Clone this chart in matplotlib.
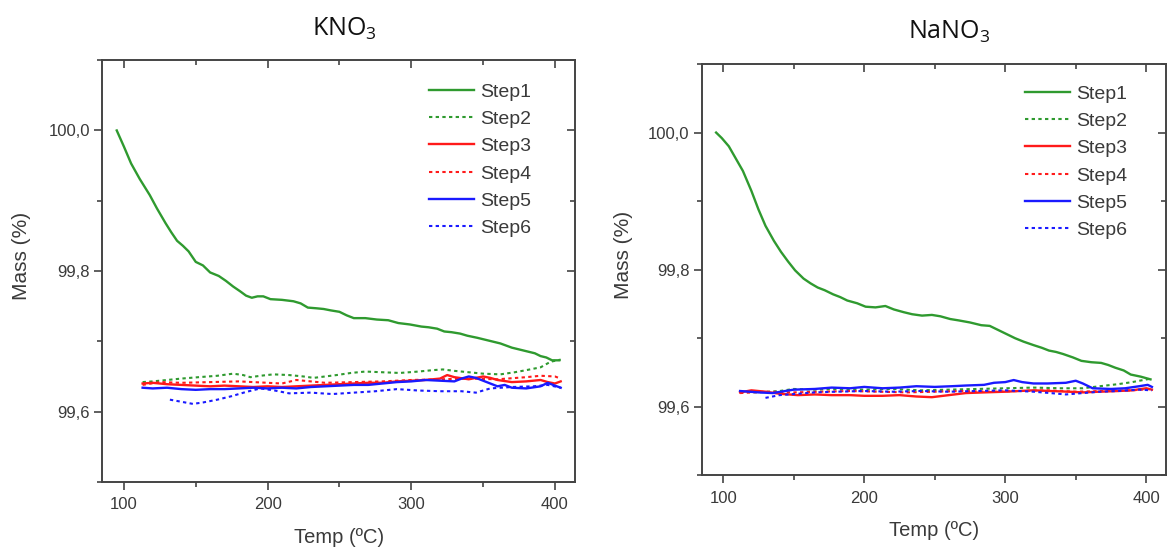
import matplotlib
matplotlib.use("Agg")
import matplotlib.pyplot as plt
from matplotlib.ticker import MultipleLocator, FuncFormatter

# ---- KNO3 ----
kno3_s1_t = [95, 100, 105, 111, 118, 123, 129, 133, 137, 141, 145, 150, 155, 160, 166, 171, 176, 181,
             185, 189, 193, 197, 202, 210, 218, 223, 228, 234, 239, 244, 250, 255, 260, 268, 276, 284,
             291, 299, 307, 312, 318, 323, 328, 334, 339, 346, 354, 362, 370, 378, 386, 390, 394, 398,
             403]
kno3_s1_m = [100.0, 99.977, 99.953, 99.931, 99.908, 99.889, 99.868, 99.855, 99.843, 99.836, 99.828,
             99.813, 99.808, 99.798, 99.793, 99.786, 99.778, 99.771, 99.765, 99.762, 99.764, 99.764,
             99.760, 99.759, 99.757, 99.754, 99.748, 99.747, 99.746, 99.744, 99.742, 99.737, 99.733,
             99.733, 99.731, 99.730, 99.726, 99.724, 99.721, 99.720, 99.718, 99.714, 99.713, 99.711,
             99.708, 99.705, 99.701, 99.697, 99.691, 99.687, 99.683, 99.679, 99.677, 99.673, 99.673]
kno3_s2_t = [113, 120, 130, 140, 152, 165, 176, 183, 188, 195, 204, 215, 225, 232, 240, 248, 258, 268,
             280, 292, 305, 315, 322, 330, 340, 350, 362, 372, 380, 390, 397, 404]
kno3_s2_m = [99.642, 99.643, 99.645, 99.647, 99.649, 99.651, 99.654, 99.652, 99.649, 99.651, 99.653,
             99.652, 99.650, 99.648, 99.650, 99.652, 99.655, 99.657, 99.656, 99.655, 99.657, 99.659,
             99.660, 99.658, 99.656, 99.654, 99.653, 99.656, 99.659, 99.663, 99.671, 99.674]
kno3_s3_t = [113, 120, 130, 140, 150, 160, 170, 180, 190, 200, 210, 220, 230, 240, 250, 260, 270, 280,
             290, 300, 310, 320, 325, 330, 340, 350, 355, 360, 370, 380, 390, 395, 400, 404]
kno3_s3_m = [99.640, 99.641, 99.639, 99.638, 99.637, 99.636, 99.637, 99.636, 99.635, 99.636, 99.635,
             99.636, 99.637, 99.638, 99.639, 99.640, 99.641, 99.641, 99.643, 99.644, 99.645, 99.647,
             99.652, 99.649, 99.646, 99.650, 99.648, 99.645, 99.642, 99.643, 99.645, 99.642, 99.640,
             99.643]
kno3_s4_t = [113, 125, 140, 160, 180, 200, 210, 220, 240, 260, 280, 300, 320, 340, 360, 380, 390, 400, 404]
kno3_s4_m = [99.638, 99.642, 99.641, 99.642, 99.643, 99.641, 99.640, 99.645, 99.641, 99.642, 99.643,
             99.645, 99.646, 99.647, 99.646, 99.649, 99.651, 99.650, 99.647]
kno3_s5_t = [113, 120, 130, 140, 150, 160, 170, 180, 190, 200, 210, 220, 230, 240, 250, 260, 270, 280,
             290, 300, 310, 320, 330, 335, 340, 345, 350, 355, 360, 365, 370, 380, 390, 395, 400, 404]
kno3_s5_m = [99.634, 99.633, 99.634, 99.632, 99.631, 99.632, 99.632, 99.633, 99.634, 99.633, 99.634,
             99.633, 99.635, 99.636, 99.637, 99.638, 99.638, 99.640, 99.642, 99.643, 99.645, 99.644,
             99.643, 99.647, 99.650, 99.648, 99.644, 99.640, 99.636, 99.638, 99.634, 99.633, 99.636,
             99.641, 99.637, 99.634]
kno3_s6_t = [132, 140, 148, 155, 165, 175, 185, 195, 205, 215, 230, 245, 260, 275, 290, 305, 320, 335,
             345, 355, 370, 385, 395, 404]
kno3_s6_m = [99.617, 99.614, 99.611, 99.613, 99.617, 99.622, 99.628, 99.633, 99.630, 99.626, 99.627,
             99.625, 99.627, 99.629, 99.632, 99.630, 99.629, 99.629, 99.627, 99.633, 99.635, 99.636,
             99.638, 99.634]

# ---- NaNO3 ----
nano3_s1_t = [95, 99, 104, 109, 114, 120, 125, 130, 136, 141, 146, 151, 157, 162, 167, 172, 178, 183,
              188, 195, 201, 208, 215, 221, 228, 234, 241, 248, 254, 261, 267, 275, 283, 289, 294, 300,
              307, 313, 320, 326, 331, 336, 341, 348, 354, 361, 368, 373, 378, 384, 389, 396, 403]
nano3_s1_m = [100.0, 99.992, 99.980, 99.962, 99.944, 99.915, 99.888, 99.864, 99.842, 99.826, 99.812,
              99.799, 99.787, 99.780, 99.774, 99.770, 99.764, 99.760, 99.755, 99.751, 99.746, 99.745,
              99.747, 99.742, 99.738, 99.735, 99.733, 99.734, 99.732, 99.728, 99.726, 99.723, 99.719,
              99.718, 99.713, 99.707, 99.700, 99.695, 99.690, 99.686, 99.682, 99.680, 99.677, 99.672,
              99.667, 99.665, 99.664, 99.661, 99.657, 99.653, 99.647, 99.644, 99.640]
nano3_s2_t = [112, 125, 140, 150, 165, 180, 200, 220, 240, 260, 280, 300, 320, 340, 355, 367, 380, 390, 403]
nano3_s2_m = [99.622, 99.621, 99.623, 99.626, 99.625, 99.626, 99.625, 99.626, 99.624, 99.625, 99.626,
              99.627, 99.628, 99.627, 99.627, 99.630, 99.633, 99.636, 99.641]
nano3_s3_t = [112, 120, 130, 140, 153, 165, 177, 190, 200, 213, 225, 237, 248, 260, 272, 285, 300, 320,
              332, 345, 355, 367, 380, 390, 400, 404]
nano3_s3_m = [99.621, 99.624, 99.622, 99.619, 99.617, 99.618, 99.617, 99.617, 99.616, 99.616, 99.617,
              99.615, 99.614, 99.617, 99.620, 99.621, 99.622, 99.624, 99.623, 99.622, 99.621, 99.622,
              99.623, 99.624, 99.627, 99.625]
nano3_s4_t = [112, 130, 150, 170, 190, 210, 230, 250, 270, 290, 310, 330, 350, 370, 390, 404]
nano3_s4_m = [99.620, 99.622, 99.621, 99.622, 99.623, 99.622, 99.621, 99.622, 99.623, 99.622, 99.623,
              99.624, 99.622, 99.623, 99.624, 99.626]
nano3_s5_t = [112, 125, 135, 150, 165, 177, 190, 200, 213, 225, 237, 250, 262, 272, 285, 292, 300, 306,
              312, 320, 330, 343, 350, 355, 362, 375, 385, 395, 401, 404]
nano3_s5_m = [99.623, 99.621, 99.620, 99.625, 99.626, 99.628, 99.627, 99.629, 99.627, 99.628, 99.630,
              99.629, 99.630, 99.631, 99.632, 99.635, 99.636, 99.639, 99.636, 99.634, 99.634, 99.635,
              99.638, 99.634, 99.627, 99.626, 99.627, 99.630, 99.632, 99.629]
nano3_s6_t = [130, 140, 153, 165, 180, 200, 220, 240, 260, 280, 300, 320, 332, 343, 355, 367, 380, 395, 404]
nano3_s6_m = [99.613, 99.617, 99.619, 99.621, 99.622, 99.623, 99.622, 99.623, 99.622, 99.623, 99.624,
              99.622, 99.620, 99.618, 99.620, 99.622, 99.623, 99.625, 99.624]

step_labels = ["Step1", "Step2", "Step3", "Step4", "Step5", "Step6"]
green = "#2f9a2f"
red = "#ff1a1a"
blue = "#1a1aff"
dots = (0, (1.6, 1.6))
styles = [(green, "-"), (green, dots), (red, "-"), (red, dots), (blue, "-"), (blue, dots)]

plt.rcParams["font.family"] = ["Liberation Sans", "DejaVu Sans"]
text_col = "#3a3a3a"
tick_col = "#444444"

fig = plt.figure(figsize=(11.7, 5.47), dpi=100)


def comma(v, pos):
    return f"{v:.1f}".replace(".", ",")


def makePanel(rect, series, title, title_xy, legend_xy, xlab_y, ylab_x):
    ax = fig.add_axes(rect)
    for (t, m), lab, (c, ls) in zip(series, step_labels, styles):
        lw = 1.7 if ls == "-" else 1.5
        ax.plot(t, m, color=c, linestyle=ls, linewidth=lw, label=lab)
    ax.set_xlim(85, 414)
    ax.set_ylim(99.5, 100.1)
    ax.xaxis.set_major_locator(MultipleLocator(100))
    ax.xaxis.set_minor_locator(MultipleLocator(50))
    ax.yaxis.set_major_locator(MultipleLocator(0.2))
    ax.yaxis.set_minor_locator(MultipleLocator(0.1))
    ax.yaxis.set_major_formatter(FuncFormatter(comma))
    ax.tick_params(which="major", length=6, width=1.2, direction="out", colors=tick_col,
                   labelsize=12, labelcolor=text_col)
    ax.tick_params(which="minor", length=3.5, width=1.2, direction="out", colors=tick_col)
    ax.tick_params(axis="x", pad=5)
    ax.tick_params(axis="y", pad=3)
    for sp in ax.spines.values():
        sp.set_linewidth(1.4)
        sp.set_color(tick_col)

    # mirrored ticks pointing inward on top and right
    top = ax.secondary_xaxis("top")
    top.xaxis.set_major_locator(MultipleLocator(100))
    top.xaxis.set_minor_locator(MultipleLocator(50))
    top.tick_params(which="major", direction="in", length=6, width=1.2, colors=tick_col, labeltop=False)
    top.tick_params(which="minor", direction="in", length=3.5, width=1.2, colors=tick_col)
    top.spines["top"].set_visible(False)
    right = ax.secondary_yaxis("right")
    right.yaxis.set_major_locator(MultipleLocator(0.2))
    right.yaxis.set_minor_locator(MultipleLocator(0.1))
    right.tick_params(which="major", direction="in", length=6, width=1.2, colors=tick_col, labelright=False)
    right.tick_params(which="minor", direction="in", length=3.5, width=1.2, colors=tick_col)
    right.spines["right"].set_visible(False)

    ax.set_xlabel("Temp (ºC)", fontsize=14.5, color=text_col)
    ax.set_ylabel("Mass (%)", fontsize=15, color=text_col)
    ax.xaxis.set_label_coords(0.5, xlab_y)
    ax.yaxis.set_label_coords(ylab_x, 0.535)

    ax.legend(loc="upper left", bbox_to_anchor=legend_xy, bbox_transform=fig.transFigure,
              frameon=False, fontsize=14, handlelength=2.3, handletextpad=0.35,
              labelspacing=0.5, borderpad=0, borderaxespad=0, labelcolor=text_col)

    fig.text(title_xy[0], title_xy[1], title, fontsize=18, ha="center", va="center",
             family=["Open Sans", "DejaVu Sans"], color="#111111")
    return ax


makePanel([0.0875, 0.119, 0.404, 0.771],
          [(kno3_s1_t, kno3_s1_m), (kno3_s2_t, kno3_s2_m), (kno3_s3_t, kno3_s3_m),
           (kno3_s4_t, kno3_s4_m), (kno3_s5_t, kno3_s5_m), (kno3_s6_t, kno3_s6_m)],
          r"KNO$_\mathregular{3}$", (344 / 1170, 1 - 29 / 547), (429 / 1170, 1 - 83 / 547),
          -0.110, -0.150)

makePanel([0.600, 0.131, 0.3966, 0.752],
          [(nano3_s1_t, nano3_s1_m), (nano3_s2_t, nano3_s2_m), (nano3_s3_t, nano3_s3_m),
           (nano3_s4_t, nano3_s4_m), (nano3_s5_t, nano3_s5_m), (nano3_s6_t, nano3_s6_m)],
          r"NaNO$_\mathregular{3}$", (949 / 1170, 1 - 32 / 547), (1025 / 1170, 1 - 85 / 547),
          -0.112, -0.148)

fig.savefig("out.png", dpi=100)
